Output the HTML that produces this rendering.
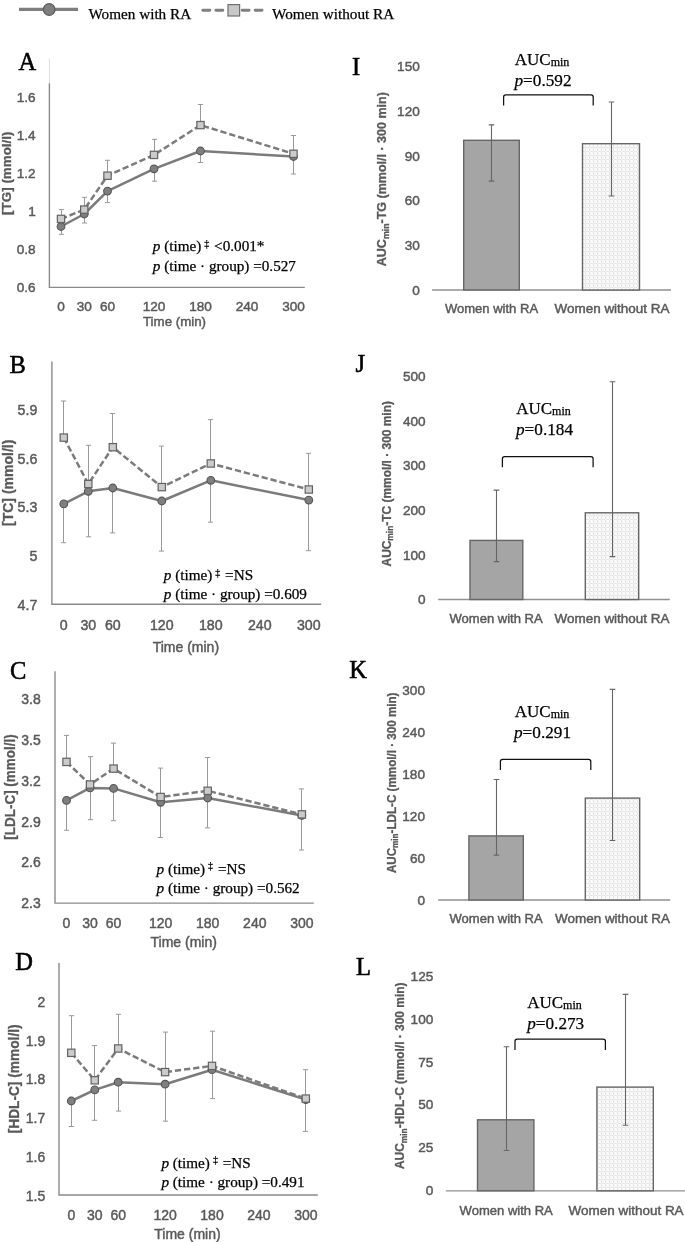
<!DOCTYPE html>
<html><head><meta charset="utf-8"><title>Figure</title>
<style>
html,body{margin:0;padding:0;background:#fff;}
body{width:685px;height:1242px;overflow:hidden;font-family:"Liberation Sans", sans-serif;}
svg{display:block;will-change:transform;}
</style></head>
<body>
<svg width="685" height="1242" viewBox="0 0 685 1242">
<defs>
<pattern id="dots" width="4" height="4" patternUnits="userSpaceOnUse">
<rect width="4" height="4" fill="#fafafa"/>
<rect x="1" y="0" width="1.1" height="3" fill="#e4e4e4"/>
<rect x="2.1" y="3" width="2.9" height="1" fill="#e4e4e4"/>
<rect x="0" y="3" width="1" height="1" fill="#e4e4e4"/>
</pattern>
</defs>
<rect width="685" height="1242" fill="#fff"/>
<line x1="19" y1="9.4" x2="78" y2="9.4" stroke="#7f7f7f" stroke-width="3.2"/>
<circle cx="49.2" cy="9.5" r="5.8" fill="#7f7f7f" stroke="#595959" stroke-width="1.2"/>
<text x="88.40" y="18.50" font-size="15.3" font-family='"Liberation Serif", serif' fill="#000" text-anchor="start" stroke="#000" stroke-width="0.25" textLength="102.8" lengthAdjust="spacingAndGlyphs">Women with RA</text>
<line x1="202.8" y1="10.3" x2="262" y2="10.3" stroke="#7f7f7f" stroke-width="2.9" stroke-linecap="round" stroke-dasharray="7 6.1"/>
<rect x="228" y="4.6" width="11.6" height="11.4" fill="#c8c8c8" stroke="#707070" stroke-width="1.2"/>
<text x="272.00" y="18.70" font-size="15.3" font-family='"Liberation Serif", serif' fill="#000" text-anchor="start" stroke="#000" stroke-width="0.25" textLength="122.2" lengthAdjust="spacingAndGlyphs">Women without RA</text>
<line x1="49.4" y1="58.7" x2="49.4" y2="83.2" stroke="#dcdcdc" stroke-width="1"/>
<path d="M49.4 83.2 V287.4 H304.8" fill="none" stroke="#8a8a8a" stroke-width="1.4"/>
<text x="35.70" y="101.76" font-size="13.6" font-family='"Liberation Sans", sans-serif' fill="#595959" text-anchor="end" stroke="#595959" stroke-width="0.45">1.6</text>
<text x="35.70" y="139.80" font-size="13.6" font-family='"Liberation Sans", sans-serif' fill="#595959" text-anchor="end" stroke="#595959" stroke-width="0.45">1.4</text>
<text x="35.70" y="177.84" font-size="13.6" font-family='"Liberation Sans", sans-serif' fill="#595959" text-anchor="end" stroke="#595959" stroke-width="0.45">1.2</text>
<text x="35.70" y="215.88" font-size="13.6" font-family='"Liberation Sans", sans-serif' fill="#595959" text-anchor="end" stroke="#595959" stroke-width="0.45">1</text>
<text x="35.70" y="253.92" font-size="13.6" font-family='"Liberation Sans", sans-serif' fill="#595959" text-anchor="end" stroke="#595959" stroke-width="0.45">0.8</text>
<text x="35.70" y="291.96" font-size="13.6" font-family='"Liberation Sans", sans-serif' fill="#595959" text-anchor="end" stroke="#595959" stroke-width="0.45">0.6</text>
<text x="61.00" y="311.26" font-size="13.6" font-family='"Liberation Sans", sans-serif' fill="#595959" text-anchor="middle" stroke="#595959" stroke-width="0.45">0</text>
<text x="84.25" y="311.26" font-size="13.6" font-family='"Liberation Sans", sans-serif' fill="#595959" text-anchor="middle" stroke="#595959" stroke-width="0.45">30</text>
<text x="107.50" y="311.26" font-size="13.6" font-family='"Liberation Sans", sans-serif' fill="#595959" text-anchor="middle" stroke="#595959" stroke-width="0.45">60</text>
<text x="154.00" y="311.26" font-size="13.6" font-family='"Liberation Sans", sans-serif' fill="#595959" text-anchor="middle" stroke="#595959" stroke-width="0.45">120</text>
<text x="200.50" y="311.26" font-size="13.6" font-family='"Liberation Sans", sans-serif' fill="#595959" text-anchor="middle" stroke="#595959" stroke-width="0.45">180</text>
<text x="247.00" y="311.26" font-size="13.6" font-family='"Liberation Sans", sans-serif' fill="#595959" text-anchor="middle" stroke="#595959" stroke-width="0.45">240</text>
<text x="293.50" y="311.26" font-size="13.6" font-family='"Liberation Sans", sans-serif' fill="#595959" text-anchor="middle" stroke="#595959" stroke-width="0.45">300</text>
<text x="174.50" y="326.40" font-size="13.3" font-family='"Liberation Sans", sans-serif' fill="#595959" text-anchor="middle" stroke="#595959" stroke-width="0.45">Time (min)</text>
<text x="18.50" y="69.80" font-size="24.5" font-family='"Liberation Serif", serif' fill="#000" text-anchor="start" stroke="#000" stroke-width="0.55">A</text>
<text transform="translate(10.8,173.2) rotate(-90)" x="0" y="0" font-size="13.4" font-family='"Liberation Sans", sans-serif' font-weight="bold" fill="#595959" stroke="#595959" stroke-width="0.3" text-anchor="middle" textLength="83.4" lengthAdjust="spacingAndGlyphs">[TG] (mmol/l)</text>
<text x="152.8" y="251.2" font-size="15.2" font-family='"Liberation Serif", serif' fill="#000" stroke="#000" stroke-width="0.25"><tspan font-style="italic">p</tspan> (time)<tspan font-size="10" dy="-4.5" dx="3">‡</tspan><tspan dy="4.5" dx="1"> &lt;0.001*</tspan></text>
<text x="152.8" y="270.5" font-size="15.2" font-family='"Liberation Serif", serif' fill="#000" stroke="#000" stroke-width="0.25"><tspan font-style="italic">p</tspan> (time · group) =0.527</text>
<path d="M61.50 226.50 V234.30 M58.90 234.30 H64.10" stroke="#999" stroke-width="1" fill="none"/>
<path d="M61.50 218.90 V209.60 M58.90 209.60 H64.10" stroke="#999" stroke-width="1" fill="none"/>
<path d="M84.50 214.00 V223.00 M81.90 223.00 H87.10" stroke="#999" stroke-width="1" fill="none"/>
<path d="M84.50 209.60 V197.30 M81.90 197.30 H87.10" stroke="#999" stroke-width="1" fill="none"/>
<path d="M107.50 191.10 V202.60 M104.90 202.60 H110.10" stroke="#999" stroke-width="1" fill="none"/>
<path d="M107.50 175.70 V160.30 M104.90 160.30 H110.10" stroke="#999" stroke-width="1" fill="none"/>
<path d="M154.50 168.80 V181.20 M151.90 181.20 H157.10" stroke="#999" stroke-width="1" fill="none"/>
<path d="M154.50 154.90 V139.40 M151.90 139.40 H157.10" stroke="#999" stroke-width="1" fill="none"/>
<path d="M200.50 151.00 V162.50 M197.90 162.50 H203.10" stroke="#999" stroke-width="1" fill="none"/>
<path d="M200.50 125.10 V104.50 M197.90 104.50 H203.10" stroke="#999" stroke-width="1" fill="none"/>
<path d="M293.50 156.50 V174.00 M290.90 174.00 H296.10" stroke="#999" stroke-width="1" fill="none"/>
<path d="M293.50 153.80 V135.50 M290.90 135.50 H296.10" stroke="#999" stroke-width="1" fill="none"/>
<polyline points="61.00,226.50 84.25,214.00 107.50,191.10 154.00,168.80 200.50,151.00 293.50,156.50" fill="none" stroke="#7b7b7b" stroke-width="2.5" stroke-linejoin="round"/>
<circle cx="61.00" cy="226.50" r="3.85" fill="#7f7f7f" stroke="#555" stroke-width="1.1"/>
<circle cx="84.25" cy="214.00" r="3.85" fill="#7f7f7f" stroke="#555" stroke-width="1.1"/>
<circle cx="107.50" cy="191.10" r="3.85" fill="#7f7f7f" stroke="#555" stroke-width="1.1"/>
<circle cx="154.00" cy="168.80" r="3.85" fill="#7f7f7f" stroke="#555" stroke-width="1.1"/>
<circle cx="200.50" cy="151.00" r="3.85" fill="#7f7f7f" stroke="#555" stroke-width="1.1"/>
<circle cx="293.50" cy="156.50" r="3.85" fill="#7f7f7f" stroke="#555" stroke-width="1.1"/>
<polyline points="61.00,218.90 84.25,209.60 107.50,175.70 154.00,154.90 200.50,125.10 293.50,153.80" fill="none" stroke="#7b7b7b" stroke-width="2.5" stroke-dasharray="6.3 2.9" stroke-linejoin="round"/>
<rect x="57.35" y="215.25" width="7.3" height="7.3" fill="#cbcbcb" stroke="#626262" stroke-width="1.2"/>
<rect x="80.60" y="205.95" width="7.3" height="7.3" fill="#cbcbcb" stroke="#626262" stroke-width="1.2"/>
<rect x="103.85" y="172.05" width="7.3" height="7.3" fill="#cbcbcb" stroke="#626262" stroke-width="1.2"/>
<rect x="150.35" y="151.25" width="7.3" height="7.3" fill="#cbcbcb" stroke="#626262" stroke-width="1.2"/>
<rect x="196.85" y="121.45" width="7.3" height="7.3" fill="#cbcbcb" stroke="#626262" stroke-width="1.2"/>
<rect x="289.85" y="150.15" width="7.3" height="7.3" fill="#cbcbcb" stroke="#626262" stroke-width="1.2"/>
<path d="M51.9 361.6 V604.2 H321.2" fill="none" stroke="#8a8a8a" stroke-width="1.4"/>
<text x="37.30" y="415.17" font-size="14.2" font-family='"Liberation Sans", sans-serif' fill="#595959" text-anchor="end" stroke="#595959" stroke-width="0.45">5.9</text>
<text x="37.30" y="463.77" font-size="14.2" font-family='"Liberation Sans", sans-serif' fill="#595959" text-anchor="end" stroke="#595959" stroke-width="0.45">5.6</text>
<text x="37.30" y="512.37" font-size="14.2" font-family='"Liberation Sans", sans-serif' fill="#595959" text-anchor="end" stroke="#595959" stroke-width="0.45">5.3</text>
<text x="37.30" y="560.97" font-size="14.2" font-family='"Liberation Sans", sans-serif' fill="#595959" text-anchor="end" stroke="#595959" stroke-width="0.45">5</text>
<text x="37.30" y="609.57" font-size="14.2" font-family='"Liberation Sans", sans-serif' fill="#595959" text-anchor="end" stroke="#595959" stroke-width="0.45">4.7</text>
<text x="63.80" y="629.97" font-size="14.2" font-family='"Liberation Sans", sans-serif' fill="#595959" text-anchor="middle" stroke="#595959" stroke-width="0.45">0</text>
<text x="88.30" y="629.97" font-size="14.2" font-family='"Liberation Sans", sans-serif' fill="#595959" text-anchor="middle" stroke="#595959" stroke-width="0.45">30</text>
<text x="112.80" y="629.97" font-size="14.2" font-family='"Liberation Sans", sans-serif' fill="#595959" text-anchor="middle" stroke="#595959" stroke-width="0.45">60</text>
<text x="161.80" y="629.97" font-size="14.2" font-family='"Liberation Sans", sans-serif' fill="#595959" text-anchor="middle" stroke="#595959" stroke-width="0.45">120</text>
<text x="210.81" y="629.97" font-size="14.2" font-family='"Liberation Sans", sans-serif' fill="#595959" text-anchor="middle" stroke="#595959" stroke-width="0.45">180</text>
<text x="259.81" y="629.97" font-size="14.2" font-family='"Liberation Sans", sans-serif' fill="#595959" text-anchor="middle" stroke="#595959" stroke-width="0.45">240</text>
<text x="308.81" y="629.97" font-size="14.2" font-family='"Liberation Sans", sans-serif' fill="#595959" text-anchor="middle" stroke="#595959" stroke-width="0.45">300</text>
<text x="185.90" y="651.60" font-size="14" font-family='"Liberation Sans", sans-serif' fill="#595959" text-anchor="middle" stroke="#595959" stroke-width="0.45">Time (min)</text>
<text x="9.50" y="372.90" font-size="24.5" font-family='"Liberation Serif", serif' fill="#000" text-anchor="start" stroke="#000" stroke-width="0.55">B</text>
<text transform="translate(12.9,482.8) rotate(-90)" x="0" y="0" font-size="14.2" font-family='"Liberation Sans", sans-serif' font-weight="bold" fill="#595959" stroke="#595959" stroke-width="0.3" text-anchor="middle" textLength="86.4" lengthAdjust="spacingAndGlyphs">[TC] (mmol/l)</text>
<text x="163.8" y="580.1" font-size="15.2" font-family='"Liberation Serif", serif' fill="#000" stroke="#000" stroke-width="0.25"><tspan font-style="italic">p</tspan> (time)<tspan font-size="10" dy="-4.5" dx="3">‡</tspan><tspan dy="4.5" dx="1"> =NS</tspan></text>
<text x="163.8" y="599.4" font-size="15.2" font-family='"Liberation Serif", serif' fill="#000" stroke="#000" stroke-width="0.25"><tspan font-style="italic">p</tspan> (time · group) =0.609</text>
<path d="M63.50 503.90 V542.70 M60.90 542.70 H66.10" stroke="#999" stroke-width="1" fill="none"/>
<path d="M63.50 437.60 V401.00 M60.90 401.00 H66.10" stroke="#999" stroke-width="1" fill="none"/>
<path d="M88.50 491.30 V536.80 M85.90 536.80 H91.10" stroke="#999" stroke-width="1" fill="none"/>
<path d="M88.50 484.00 V445.30 M85.90 445.30 H91.10" stroke="#999" stroke-width="1" fill="none"/>
<path d="M112.50 488.00 V532.90 M109.90 532.90 H115.10" stroke="#999" stroke-width="1" fill="none"/>
<path d="M112.50 447.20 V413.50 M109.90 413.50 H115.10" stroke="#999" stroke-width="1" fill="none"/>
<path d="M161.50 501.00 V551.10 M158.90 551.10 H164.10" stroke="#999" stroke-width="1" fill="none"/>
<path d="M161.50 487.10 V446.10 M158.90 446.10 H164.10" stroke="#999" stroke-width="1" fill="none"/>
<path d="M210.50 480.30 V522.20 M207.90 522.20 H213.10" stroke="#999" stroke-width="1" fill="none"/>
<path d="M210.50 463.50 V419.60 M207.90 419.60 H213.10" stroke="#999" stroke-width="1" fill="none"/>
<path d="M308.50 500.10 V550.70 M305.90 550.70 H311.10" stroke="#999" stroke-width="1" fill="none"/>
<path d="M308.50 489.50 V453.30 M305.90 453.30 H311.10" stroke="#999" stroke-width="1" fill="none"/>
<polyline points="63.80,503.90 88.30,491.30 112.80,488.00 161.80,501.00 210.81,480.30 308.81,500.10" fill="none" stroke="#7b7b7b" stroke-width="2.5" stroke-linejoin="round"/>
<circle cx="63.80" cy="503.90" r="3.85" fill="#7f7f7f" stroke="#555" stroke-width="1.1"/>
<circle cx="88.30" cy="491.30" r="3.85" fill="#7f7f7f" stroke="#555" stroke-width="1.1"/>
<circle cx="112.80" cy="488.00" r="3.85" fill="#7f7f7f" stroke="#555" stroke-width="1.1"/>
<circle cx="161.80" cy="501.00" r="3.85" fill="#7f7f7f" stroke="#555" stroke-width="1.1"/>
<circle cx="210.81" cy="480.30" r="3.85" fill="#7f7f7f" stroke="#555" stroke-width="1.1"/>
<circle cx="308.81" cy="500.10" r="3.85" fill="#7f7f7f" stroke="#555" stroke-width="1.1"/>
<polyline points="63.80,437.60 88.30,484.00 112.80,447.20 161.80,487.10 210.81,463.50 308.81,489.50" fill="none" stroke="#7b7b7b" stroke-width="2.5" stroke-dasharray="6.3 2.9" stroke-linejoin="round"/>
<rect x="60.15" y="433.95" width="7.3" height="7.3" fill="#cbcbcb" stroke="#626262" stroke-width="1.2"/>
<rect x="84.65" y="480.35" width="7.3" height="7.3" fill="#cbcbcb" stroke="#626262" stroke-width="1.2"/>
<rect x="109.15" y="443.55" width="7.3" height="7.3" fill="#cbcbcb" stroke="#626262" stroke-width="1.2"/>
<rect x="158.15" y="483.45" width="7.3" height="7.3" fill="#cbcbcb" stroke="#626262" stroke-width="1.2"/>
<rect x="207.16" y="459.85" width="7.3" height="7.3" fill="#cbcbcb" stroke="#626262" stroke-width="1.2"/>
<rect x="305.16" y="485.85" width="7.3" height="7.3" fill="#cbcbcb" stroke="#626262" stroke-width="1.2"/>
<path d="M55 671.3 V903.1 H313.8" fill="none" stroke="#8a8a8a" stroke-width="1.4"/>
<text x="40.80" y="703.90" font-size="14" font-family='"Liberation Sans", sans-serif' fill="#595959" text-anchor="end" stroke="#595959" stroke-width="0.45">3.8</text>
<text x="40.80" y="744.78" font-size="14" font-family='"Liberation Sans", sans-serif' fill="#595959" text-anchor="end" stroke="#595959" stroke-width="0.45">3.5</text>
<text x="40.80" y="785.66" font-size="14" font-family='"Liberation Sans", sans-serif' fill="#595959" text-anchor="end" stroke="#595959" stroke-width="0.45">3.2</text>
<text x="40.80" y="826.54" font-size="14" font-family='"Liberation Sans", sans-serif' fill="#595959" text-anchor="end" stroke="#595959" stroke-width="0.45">2.9</text>
<text x="40.80" y="867.42" font-size="14" font-family='"Liberation Sans", sans-serif' fill="#595959" text-anchor="end" stroke="#595959" stroke-width="0.45">2.6</text>
<text x="40.80" y="908.30" font-size="14" font-family='"Liberation Sans", sans-serif' fill="#595959" text-anchor="end" stroke="#595959" stroke-width="0.45">2.3</text>
<text x="66.50" y="928.30" font-size="14" font-family='"Liberation Sans", sans-serif' fill="#595959" text-anchor="middle" stroke="#595959" stroke-width="0.45">0</text>
<text x="90.03" y="928.30" font-size="14" font-family='"Liberation Sans", sans-serif' fill="#595959" text-anchor="middle" stroke="#595959" stroke-width="0.45">30</text>
<text x="113.57" y="928.30" font-size="14" font-family='"Liberation Sans", sans-serif' fill="#595959" text-anchor="middle" stroke="#595959" stroke-width="0.45">60</text>
<text x="160.64" y="928.30" font-size="14" font-family='"Liberation Sans", sans-serif' fill="#595959" text-anchor="middle" stroke="#595959" stroke-width="0.45">120</text>
<text x="207.71" y="928.30" font-size="14" font-family='"Liberation Sans", sans-serif' fill="#595959" text-anchor="middle" stroke="#595959" stroke-width="0.45">180</text>
<text x="254.78" y="928.30" font-size="14" font-family='"Liberation Sans", sans-serif' fill="#595959" text-anchor="middle" stroke="#595959" stroke-width="0.45">240</text>
<text x="301.85" y="928.30" font-size="14" font-family='"Liberation Sans", sans-serif' fill="#595959" text-anchor="middle" stroke="#595959" stroke-width="0.45">300</text>
<text x="183.70" y="947.30" font-size="14" font-family='"Liberation Sans", sans-serif' fill="#595959" text-anchor="middle" stroke="#595959" stroke-width="0.45">Time (min)</text>
<text x="10.00" y="678.80" font-size="24.5" font-family='"Liberation Serif", serif' fill="#000" text-anchor="start" stroke="#000" stroke-width="0.55">C</text>
<text transform="translate(14.7,787) rotate(-90)" x="0" y="0" font-size="14" font-family='"Liberation Sans", sans-serif' font-weight="bold" fill="#595959" stroke="#595959" stroke-width="0.3" text-anchor="middle" textLength="105.3" lengthAdjust="spacingAndGlyphs">[LDL-C] (mmol/l)</text>
<text x="156.6" y="873.5" font-size="15.2" font-family='"Liberation Serif", serif' fill="#000" stroke="#000" stroke-width="0.25"><tspan font-style="italic">p</tspan> (time)<tspan font-size="10" dy="-4.5" dx="3">‡</tspan><tspan dy="4.5" dx="1"> =NS</tspan></text>
<text x="156.6" y="892.8" font-size="15.2" font-family='"Liberation Serif", serif' fill="#000" stroke="#000" stroke-width="0.25"><tspan font-style="italic">p</tspan> (time · group) =0.562</text>
<path d="M66.50 800.40 V830.30 M63.90 830.30 H69.10" stroke="#999" stroke-width="1" fill="none"/>
<path d="M66.50 761.90 V735.40 M63.90 735.40 H69.10" stroke="#999" stroke-width="1" fill="none"/>
<path d="M90.50 787.90 V819.70 M87.90 819.70 H93.10" stroke="#999" stroke-width="1" fill="none"/>
<path d="M90.50 784.50 V756.60 M87.90 756.60 H93.10" stroke="#999" stroke-width="1" fill="none"/>
<path d="M113.50 788.40 V820.70 M110.90 820.70 H116.10" stroke="#999" stroke-width="1" fill="none"/>
<path d="M113.50 768.60 V743.10 M110.90 743.10 H116.10" stroke="#999" stroke-width="1" fill="none"/>
<path d="M160.50 802.30 V837.50 M157.90 837.50 H163.10" stroke="#999" stroke-width="1" fill="none"/>
<path d="M160.50 797.00 V768.10 M157.90 768.10 H163.10" stroke="#999" stroke-width="1" fill="none"/>
<path d="M207.50 798.00 V827.90 M204.90 827.90 H210.10" stroke="#999" stroke-width="1" fill="none"/>
<path d="M207.50 790.80 V757.50 M204.90 757.50 H210.10" stroke="#999" stroke-width="1" fill="none"/>
<path d="M301.50 815.40 V850.00 M298.90 850.00 H304.10" stroke="#999" stroke-width="1" fill="none"/>
<path d="M301.50 814.40 V788.90 M298.90 788.90 H304.10" stroke="#999" stroke-width="1" fill="none"/>
<polyline points="66.50,800.40 90.03,787.90 113.57,788.40 160.64,802.30 207.71,798.00 301.85,815.40" fill="none" stroke="#7b7b7b" stroke-width="2.5" stroke-linejoin="round"/>
<circle cx="66.50" cy="800.40" r="3.85" fill="#7f7f7f" stroke="#555" stroke-width="1.1"/>
<circle cx="90.03" cy="787.90" r="3.85" fill="#7f7f7f" stroke="#555" stroke-width="1.1"/>
<circle cx="113.57" cy="788.40" r="3.85" fill="#7f7f7f" stroke="#555" stroke-width="1.1"/>
<circle cx="160.64" cy="802.30" r="3.85" fill="#7f7f7f" stroke="#555" stroke-width="1.1"/>
<circle cx="207.71" cy="798.00" r="3.85" fill="#7f7f7f" stroke="#555" stroke-width="1.1"/>
<circle cx="301.85" cy="815.40" r="3.85" fill="#7f7f7f" stroke="#555" stroke-width="1.1"/>
<polyline points="66.50,761.90 90.03,784.50 113.57,768.60 160.64,797.00 207.71,790.80 301.85,814.40" fill="none" stroke="#7b7b7b" stroke-width="2.5" stroke-dasharray="6.3 2.9" stroke-linejoin="round"/>
<rect x="62.85" y="758.25" width="7.3" height="7.3" fill="#cbcbcb" stroke="#626262" stroke-width="1.2"/>
<rect x="86.38" y="780.85" width="7.3" height="7.3" fill="#cbcbcb" stroke="#626262" stroke-width="1.2"/>
<rect x="109.92" y="764.95" width="7.3" height="7.3" fill="#cbcbcb" stroke="#626262" stroke-width="1.2"/>
<rect x="156.99" y="793.35" width="7.3" height="7.3" fill="#cbcbcb" stroke="#626262" stroke-width="1.2"/>
<rect x="204.06" y="787.15" width="7.3" height="7.3" fill="#cbcbcb" stroke="#626262" stroke-width="1.2"/>
<rect x="298.20" y="810.75" width="7.3" height="7.3" fill="#cbcbcb" stroke="#626262" stroke-width="1.2"/>
<path d="M59 963.1 V1195 H317.8" fill="none" stroke="#8a8a8a" stroke-width="1.4"/>
<text x="45.20" y="1006.90" font-size="14" font-family='"Liberation Sans", sans-serif' fill="#595959" text-anchor="end" stroke="#595959" stroke-width="0.45">2</text>
<text x="45.20" y="1045.64" font-size="14" font-family='"Liberation Sans", sans-serif' fill="#595959" text-anchor="end" stroke="#595959" stroke-width="0.45">1.9</text>
<text x="45.20" y="1084.38" font-size="14" font-family='"Liberation Sans", sans-serif' fill="#595959" text-anchor="end" stroke="#595959" stroke-width="0.45">1.8</text>
<text x="45.20" y="1123.12" font-size="14" font-family='"Liberation Sans", sans-serif' fill="#595959" text-anchor="end" stroke="#595959" stroke-width="0.45">1.7</text>
<text x="45.20" y="1161.86" font-size="14" font-family='"Liberation Sans", sans-serif' fill="#595959" text-anchor="end" stroke="#595959" stroke-width="0.45">1.6</text>
<text x="45.20" y="1200.60" font-size="14" font-family='"Liberation Sans", sans-serif' fill="#595959" text-anchor="end" stroke="#595959" stroke-width="0.45">1.5</text>
<text x="71.30" y="1220.10" font-size="14" font-family='"Liberation Sans", sans-serif' fill="#595959" text-anchor="middle" stroke="#595959" stroke-width="0.45">0</text>
<text x="94.75" y="1220.10" font-size="14" font-family='"Liberation Sans", sans-serif' fill="#595959" text-anchor="middle" stroke="#595959" stroke-width="0.45">30</text>
<text x="118.20" y="1220.10" font-size="14" font-family='"Liberation Sans", sans-serif' fill="#595959" text-anchor="middle" stroke="#595959" stroke-width="0.45">60</text>
<text x="165.10" y="1220.10" font-size="14" font-family='"Liberation Sans", sans-serif' fill="#595959" text-anchor="middle" stroke="#595959" stroke-width="0.45">120</text>
<text x="212.01" y="1220.10" font-size="14" font-family='"Liberation Sans", sans-serif' fill="#595959" text-anchor="middle" stroke="#595959" stroke-width="0.45">180</text>
<text x="258.91" y="1220.10" font-size="14" font-family='"Liberation Sans", sans-serif' fill="#595959" text-anchor="middle" stroke="#595959" stroke-width="0.45">240</text>
<text x="305.81" y="1220.10" font-size="14" font-family='"Liberation Sans", sans-serif' fill="#595959" text-anchor="middle" stroke="#595959" stroke-width="0.45">300</text>
<text x="187.50" y="1239.30" font-size="14" font-family='"Liberation Sans", sans-serif' fill="#595959" text-anchor="middle" stroke="#595959" stroke-width="0.45">Time (min)</text>
<text x="15.20" y="970.10" font-size="24.5" font-family='"Liberation Serif", serif' fill="#000" text-anchor="start" stroke="#000" stroke-width="0.55">D</text>
<text transform="translate(18.7,1078.9) rotate(-90)" x="0" y="0" font-size="14" font-family='"Liberation Sans", sans-serif' font-weight="bold" fill="#595959" stroke="#595959" stroke-width="0.3" text-anchor="middle" textLength="108.9" lengthAdjust="spacingAndGlyphs">[HDL-C] (mmol/l)</text>
<text x="161.4" y="1167.9" font-size="15.2" font-family='"Liberation Serif", serif' fill="#000" stroke="#000" stroke-width="0.25"><tspan font-style="italic">p</tspan> (time)<tspan font-size="10" dy="-4.5" dx="3">‡</tspan><tspan dy="4.5" dx="1"> =NS</tspan></text>
<text x="161.4" y="1187.2" font-size="15.2" font-family='"Liberation Serif", serif' fill="#000" stroke="#000" stroke-width="0.25"><tspan font-style="italic">p</tspan> (time · group) =0.491</text>
<path d="M71.50 1101.00 V1126.50 M68.90 1126.50 H74.10" stroke="#999" stroke-width="1" fill="none"/>
<path d="M71.50 1052.80 V1015.70 M68.90 1015.70 H74.10" stroke="#999" stroke-width="1" fill="none"/>
<path d="M94.50 1089.90 V1120.30 M91.90 1120.30 H97.10" stroke="#999" stroke-width="1" fill="none"/>
<path d="M94.50 1080.30 V1045.60 M91.90 1045.60 H97.10" stroke="#999" stroke-width="1" fill="none"/>
<path d="M118.50 1082.20 V1111.10 M115.90 1111.10 H121.10" stroke="#999" stroke-width="1" fill="none"/>
<path d="M118.50 1048.50 V1014.30 M115.90 1014.30 H121.10" stroke="#999" stroke-width="1" fill="none"/>
<path d="M165.50 1084.20 V1121.20 M162.90 1121.20 H168.10" stroke="#999" stroke-width="1" fill="none"/>
<path d="M165.50 1072.10 V1032.10 M162.90 1032.10 H168.10" stroke="#999" stroke-width="1" fill="none"/>
<path d="M212.50 1069.70 V1098.60 M209.90 1098.60 H215.10" stroke="#999" stroke-width="1" fill="none"/>
<path d="M212.50 1065.90 V1031.20 M209.90 1031.20 H215.10" stroke="#999" stroke-width="1" fill="none"/>
<path d="M305.50 1099.60 V1131.40 M302.90 1131.40 H308.10" stroke="#999" stroke-width="1" fill="none"/>
<path d="M305.50 1098.60 V1069.70 M302.90 1069.70 H308.10" stroke="#999" stroke-width="1" fill="none"/>
<polyline points="71.30,1101.00 94.75,1089.90 118.20,1082.20 165.10,1084.20 212.01,1069.70 305.81,1099.60" fill="none" stroke="#7b7b7b" stroke-width="2.5" stroke-linejoin="round"/>
<circle cx="71.30" cy="1101.00" r="3.85" fill="#7f7f7f" stroke="#555" stroke-width="1.1"/>
<circle cx="94.75" cy="1089.90" r="3.85" fill="#7f7f7f" stroke="#555" stroke-width="1.1"/>
<circle cx="118.20" cy="1082.20" r="3.85" fill="#7f7f7f" stroke="#555" stroke-width="1.1"/>
<circle cx="165.10" cy="1084.20" r="3.85" fill="#7f7f7f" stroke="#555" stroke-width="1.1"/>
<circle cx="212.01" cy="1069.70" r="3.85" fill="#7f7f7f" stroke="#555" stroke-width="1.1"/>
<circle cx="305.81" cy="1099.60" r="3.85" fill="#7f7f7f" stroke="#555" stroke-width="1.1"/>
<polyline points="71.30,1052.80 94.75,1080.30 118.20,1048.50 165.10,1072.10 212.01,1065.90 305.81,1098.60" fill="none" stroke="#7b7b7b" stroke-width="2.5" stroke-dasharray="6.3 2.9" stroke-linejoin="round"/>
<rect x="67.65" y="1049.15" width="7.3" height="7.3" fill="#cbcbcb" stroke="#626262" stroke-width="1.2"/>
<rect x="91.10" y="1076.65" width="7.3" height="7.3" fill="#cbcbcb" stroke="#626262" stroke-width="1.2"/>
<rect x="114.55" y="1044.85" width="7.3" height="7.3" fill="#cbcbcb" stroke="#626262" stroke-width="1.2"/>
<rect x="161.45" y="1068.45" width="7.3" height="7.3" fill="#cbcbcb" stroke="#626262" stroke-width="1.2"/>
<rect x="208.36" y="1062.25" width="7.3" height="7.3" fill="#cbcbcb" stroke="#626262" stroke-width="1.2"/>
<rect x="302.16" y="1094.95" width="7.3" height="7.3" fill="#cbcbcb" stroke="#626262" stroke-width="1.2"/>
<text x="419.80" y="71.36" font-size="13.6" font-family='"Liberation Sans", sans-serif' fill="#595959" text-anchor="end" stroke="#595959" stroke-width="0.45">150</text>
<text x="419.80" y="116.06" font-size="13.6" font-family='"Liberation Sans", sans-serif' fill="#595959" text-anchor="end" stroke="#595959" stroke-width="0.45">120</text>
<text x="419.80" y="160.76" font-size="13.6" font-family='"Liberation Sans", sans-serif' fill="#595959" text-anchor="end" stroke="#595959" stroke-width="0.45">90</text>
<text x="419.80" y="205.46" font-size="13.6" font-family='"Liberation Sans", sans-serif' fill="#595959" text-anchor="end" stroke="#595959" stroke-width="0.45">60</text>
<text x="419.80" y="250.16" font-size="13.6" font-family='"Liberation Sans", sans-serif' fill="#595959" text-anchor="end" stroke="#595959" stroke-width="0.45">30</text>
<text x="419.80" y="294.86" font-size="13.6" font-family='"Liberation Sans", sans-serif' fill="#595959" text-anchor="end" stroke="#595959" stroke-width="0.45">0</text>
<line x1="432.1" y1="290.0" x2="671" y2="290.0" stroke="#909090" stroke-width="1.3"/>
<rect x="463.7" y="140.3" width="55.60" height="149.70" fill="#a5a5a5" stroke="#666" stroke-width="1.4"/>
<rect x="582.5" y="143.7" width="57.00" height="146.30" fill="url(#dots)" stroke="#666" stroke-width="1.4"/>
<path d="M491.5 124.9 V181.1 M488.7 124.9 H494.3 M488.7 181.1 H494.3" stroke="#666" stroke-width="1.1" fill="none"/>
<path d="M611.5 102 V196 M608.7 102 H614.3 M608.7 196 H614.3" stroke="#666" stroke-width="1.1" fill="none"/>
<path d="M503.6 105.5 V97.10000000000001 Q503.6 94.9 505.8 94.9 H591.0 Q593.2 94.9 593.2 97.10000000000001 V105.5" stroke="#111" stroke-width="1.25" fill="none"/>
<text x="542.1" y="65.4" font-size="17" font-family='"Liberation Serif", serif' fill="#000" stroke="#000" stroke-width="0.25" text-anchor="middle">AUC<tspan font-size="12" dy="1">min</tspan></text>
<text x="543" y="86.10000000000001" font-size="17.2" font-family='"Liberation Serif", serif' fill="#000" stroke="#000" stroke-width="0.25" text-anchor="middle"><tspan font-style="italic">p</tspan>=0.592</text>
<text x="491.50" y="313.40" font-size="13" font-family='"Liberation Sans", sans-serif' fill="#595959" text-anchor="middle" stroke="#595959" stroke-width="0.45" textLength="93.2" lengthAdjust="spacingAndGlyphs">Women with RA</text>
<text x="612.00" y="313.40" font-size="13" font-family='"Liberation Sans", sans-serif' fill="#595959" text-anchor="middle" stroke="#595959" stroke-width="0.45" textLength="115" lengthAdjust="spacingAndGlyphs">Women without RA</text>
<text x="352.00" y="75.10" font-size="24.5" font-family='"Liberation Serif", serif' fill="#000" text-anchor="start" stroke="#000" stroke-width="0.55">I</text>
<text transform="translate(386.3,179.2) rotate(-90)" x="0" y="0" font-size="12.8" font-family='"Liberation Sans", sans-serif' font-weight="bold" fill="#595959" stroke="#595959" stroke-width="0.3" text-anchor="middle" textLength="174" lengthAdjust="spacingAndGlyphs">AUC<tspan font-size="9.0" dy="2.5">min</tspan><tspan dy="-2.5">-TG (mmol/l · 300 min)</tspan></text>
<text x="425.60" y="381.26" font-size="13.6" font-family='"Liberation Sans", sans-serif' fill="#595959" text-anchor="end" stroke="#595959" stroke-width="0.45">500</text>
<text x="425.60" y="425.84" font-size="13.6" font-family='"Liberation Sans", sans-serif' fill="#595959" text-anchor="end" stroke="#595959" stroke-width="0.45">400</text>
<text x="425.60" y="470.42" font-size="13.6" font-family='"Liberation Sans", sans-serif' fill="#595959" text-anchor="end" stroke="#595959" stroke-width="0.45">300</text>
<text x="425.60" y="515.00" font-size="13.6" font-family='"Liberation Sans", sans-serif' fill="#595959" text-anchor="end" stroke="#595959" stroke-width="0.45">200</text>
<text x="425.60" y="559.58" font-size="13.6" font-family='"Liberation Sans", sans-serif' fill="#595959" text-anchor="end" stroke="#595959" stroke-width="0.45">100</text>
<text x="425.60" y="604.16" font-size="13.6" font-family='"Liberation Sans", sans-serif' fill="#595959" text-anchor="end" stroke="#595959" stroke-width="0.45">0</text>
<line x1="438.2" y1="599.5" x2="669.8" y2="599.5" stroke="#909090" stroke-width="1.3"/>
<rect x="470" y="540.4" width="52.80" height="59.10" fill="#a5a5a5" stroke="#666" stroke-width="1.4"/>
<rect x="585.3" y="512.8" width="53.40" height="86.70" fill="url(#dots)" stroke="#666" stroke-width="1.4"/>
<path d="M496.5 490.1 V561.6 M493.7 490.1 H499.3 M493.7 561.6 H499.3" stroke="#666" stroke-width="1.1" fill="none"/>
<path d="M612.5 381.8 V556.6 M609.7 381.8 H615.3 M609.7 556.6 H615.3" stroke="#666" stroke-width="1.1" fill="none"/>
<path d="M502.4 467.3 V458.7 Q502.4 456.5 504.59999999999997 456.5 H590.9 Q593.1 456.5 593.1 458.7 V467.3" stroke="#111" stroke-width="1.25" fill="none"/>
<text x="543.5" y="413.79999999999995" font-size="17" font-family='"Liberation Serif", serif' fill="#000" stroke="#000" stroke-width="0.25" text-anchor="middle">AUC<tspan font-size="12" dy="1">min</tspan></text>
<text x="544.5" y="434.79999999999995" font-size="17.2" font-family='"Liberation Serif", serif' fill="#000" stroke="#000" stroke-width="0.25" text-anchor="middle"><tspan font-style="italic">p</tspan>=0.184</text>
<text x="496.10" y="623.20" font-size="13" font-family='"Liberation Sans", sans-serif' fill="#595959" text-anchor="middle" stroke="#595959" stroke-width="0.45" textLength="93.2" lengthAdjust="spacingAndGlyphs">Women with RA</text>
<text x="612.00" y="623.20" font-size="13" font-family='"Liberation Sans", sans-serif' fill="#595959" text-anchor="middle" stroke="#595959" stroke-width="0.45" textLength="115" lengthAdjust="spacingAndGlyphs">Women without RA</text>
<text x="355.60" y="371.50" font-size="24.5" font-family='"Liberation Serif", serif' fill="#000" text-anchor="start" stroke="#000" stroke-width="0.55">J</text>
<text transform="translate(390.8,483.8) rotate(-90)" x="0" y="0" font-size="12.4" font-family='"Liberation Sans", sans-serif' font-weight="bold" fill="#595959" stroke="#595959" stroke-width="0.3" text-anchor="middle" textLength="165.4" lengthAdjust="spacingAndGlyphs">AUC<tspan font-size="8.7" dy="2.5">min</tspan><tspan dy="-2.5">-TC (mmol/l · 300 min)</tspan></text>
<text x="425.00" y="695.26" font-size="13.6" font-family='"Liberation Sans", sans-serif' fill="#595959" text-anchor="end" stroke="#595959" stroke-width="0.45">300</text>
<text x="425.00" y="737.18" font-size="13.6" font-family='"Liberation Sans", sans-serif' fill="#595959" text-anchor="end" stroke="#595959" stroke-width="0.45">240</text>
<text x="425.00" y="779.10" font-size="13.6" font-family='"Liberation Sans", sans-serif' fill="#595959" text-anchor="end" stroke="#595959" stroke-width="0.45">180</text>
<text x="425.00" y="821.02" font-size="13.6" font-family='"Liberation Sans", sans-serif' fill="#595959" text-anchor="end" stroke="#595959" stroke-width="0.45">120</text>
<text x="425.00" y="862.94" font-size="13.6" font-family='"Liberation Sans", sans-serif' fill="#595959" text-anchor="end" stroke="#595959" stroke-width="0.45">60</text>
<text x="425.00" y="904.86" font-size="13.6" font-family='"Liberation Sans", sans-serif' fill="#595959" text-anchor="end" stroke="#595959" stroke-width="0.45">0</text>
<line x1="438.2" y1="900.0" x2="670.2" y2="900.0" stroke="#909090" stroke-width="1.3"/>
<rect x="468.9" y="835.9" width="54.40" height="64.10" fill="#a5a5a5" stroke="#666" stroke-width="1.4"/>
<rect x="585.3" y="798.1" width="54.40" height="101.90" fill="url(#dots)" stroke="#666" stroke-width="1.4"/>
<path d="M496.5 779.5 V855.1 M493.7 779.5 H499.3 M493.7 855.1 H499.3" stroke="#666" stroke-width="1.1" fill="none"/>
<path d="M612.5 689.4 V840.5 M609.7 689.4 H615.3 M609.7 840.5 H615.3" stroke="#666" stroke-width="1.1" fill="none"/>
<path d="M500.4 770.1 V761.6 Q500.4 759.4 502.59999999999997 759.4 H588.5999999999999 Q590.8 759.4 590.8 761.6 V770.1" stroke="#111" stroke-width="1.25" fill="none"/>
<text x="542.1" y="716.8" font-size="17" font-family='"Liberation Serif", serif' fill="#000" stroke="#000" stroke-width="0.25" text-anchor="middle">AUC<tspan font-size="12" dy="1">min</tspan></text>
<text x="542.5" y="737.9" font-size="17.2" font-family='"Liberation Serif", serif' fill="#000" stroke="#000" stroke-width="0.25" text-anchor="middle"><tspan font-style="italic">p</tspan>=0.291</text>
<text x="496.10" y="923.20" font-size="13" font-family='"Liberation Sans", sans-serif' fill="#595959" text-anchor="middle" stroke="#595959" stroke-width="0.45" textLength="93.2" lengthAdjust="spacingAndGlyphs">Women with RA</text>
<text x="612.50" y="923.20" font-size="13" font-family='"Liberation Sans", sans-serif' fill="#595959" text-anchor="middle" stroke="#595959" stroke-width="0.45" textLength="115" lengthAdjust="spacingAndGlyphs">Women without RA</text>
<text x="349.20" y="677.70" font-size="24.5" font-family='"Liberation Serif", serif' fill="#000" text-anchor="start" stroke="#000" stroke-width="0.55">K</text>
<text transform="translate(395.6,782.8) rotate(-90)" x="0" y="0" font-size="12.6" font-family='"Liberation Sans", sans-serif' font-weight="bold" fill="#595959" stroke="#595959" stroke-width="0.3" text-anchor="middle" textLength="180.6" lengthAdjust="spacingAndGlyphs">AUC<tspan font-size="8.8" dy="2.5">min</tspan><tspan dy="-2.5">-LDL-C (mmol/l · 300 min)</tspan></text>
<text x="433.30" y="980.86" font-size="13.6" font-family='"Liberation Sans", sans-serif' fill="#595959" text-anchor="end" stroke="#595959" stroke-width="0.45">125</text>
<text x="433.30" y="1023.68" font-size="13.6" font-family='"Liberation Sans", sans-serif' fill="#595959" text-anchor="end" stroke="#595959" stroke-width="0.45">100</text>
<text x="433.30" y="1066.50" font-size="13.6" font-family='"Liberation Sans", sans-serif' fill="#595959" text-anchor="end" stroke="#595959" stroke-width="0.45">75</text>
<text x="433.30" y="1109.32" font-size="13.6" font-family='"Liberation Sans", sans-serif' fill="#595959" text-anchor="end" stroke="#595959" stroke-width="0.45">50</text>
<text x="433.30" y="1152.14" font-size="13.6" font-family='"Liberation Sans", sans-serif' fill="#595959" text-anchor="end" stroke="#595959" stroke-width="0.45">25</text>
<text x="433.30" y="1194.96" font-size="13.6" font-family='"Liberation Sans", sans-serif' fill="#595959" text-anchor="end" stroke="#595959" stroke-width="0.45">0</text>
<line x1="445.8" y1="1190.8" x2="685" y2="1190.8" stroke="#909090" stroke-width="1.3"/>
<rect x="477.5" y="1119.8" width="56.40" height="71.00" fill="#a5a5a5" stroke="#666" stroke-width="1.4"/>
<rect x="596.9" y="1087.1" width="56.40" height="103.70" fill="url(#dots)" stroke="#666" stroke-width="1.4"/>
<path d="M506.5 1046.8 V1150.5 M503.7 1046.8 H509.3 M503.7 1150.5 H509.3" stroke="#666" stroke-width="1.1" fill="none"/>
<path d="M625.5 994.4 V1125.3 M622.7 994.4 H628.3 M622.7 1125.3 H628.3" stroke="#666" stroke-width="1.1" fill="none"/>
<path d="M515 1050.1 V1041.2 Q515 1039 517.2 1039 H603.1999999999999 Q605.4 1039 605.4 1041.2 V1050.1" stroke="#111" stroke-width="1.25" fill="none"/>
<text x="554.5" y="1008.4" font-size="17" font-family='"Liberation Serif", serif' fill="#000" stroke="#000" stroke-width="0.25" text-anchor="middle">AUC<tspan font-size="12" dy="1">min</tspan></text>
<text x="555.7" y="1029.1000000000001" font-size="17.2" font-family='"Liberation Serif", serif' fill="#000" stroke="#000" stroke-width="0.25" text-anchor="middle"><tspan font-style="italic">p</tspan>=0.273</text>
<text x="506.20" y="1215.00" font-size="13" font-family='"Liberation Sans", sans-serif' fill="#595959" text-anchor="middle" stroke="#595959" stroke-width="0.45" textLength="93.2" lengthAdjust="spacingAndGlyphs">Women with RA</text>
<text x="626.10" y="1215.00" font-size="13" font-family='"Liberation Sans", sans-serif' fill="#595959" text-anchor="middle" stroke="#595959" stroke-width="0.45" textLength="115" lengthAdjust="spacingAndGlyphs">Women without RA</text>
<text x="356.00" y="974.80" font-size="24.5" font-family='"Liberation Serif", serif' fill="#000" text-anchor="start" stroke="#000" stroke-width="0.55">L</text>
<text transform="translate(404.3,1075.8) rotate(-90)" x="0" y="0" font-size="12.8" font-family='"Liberation Sans", sans-serif' font-weight="bold" fill="#595959" stroke="#595959" stroke-width="0.3" text-anchor="middle" textLength="186.6" lengthAdjust="spacingAndGlyphs">AUC<tspan font-size="9.0" dy="2.5">min</tspan><tspan dy="-2.5">-HDL-C (mmol/l · 300 min)</tspan></text>
</svg>
</body></html>
